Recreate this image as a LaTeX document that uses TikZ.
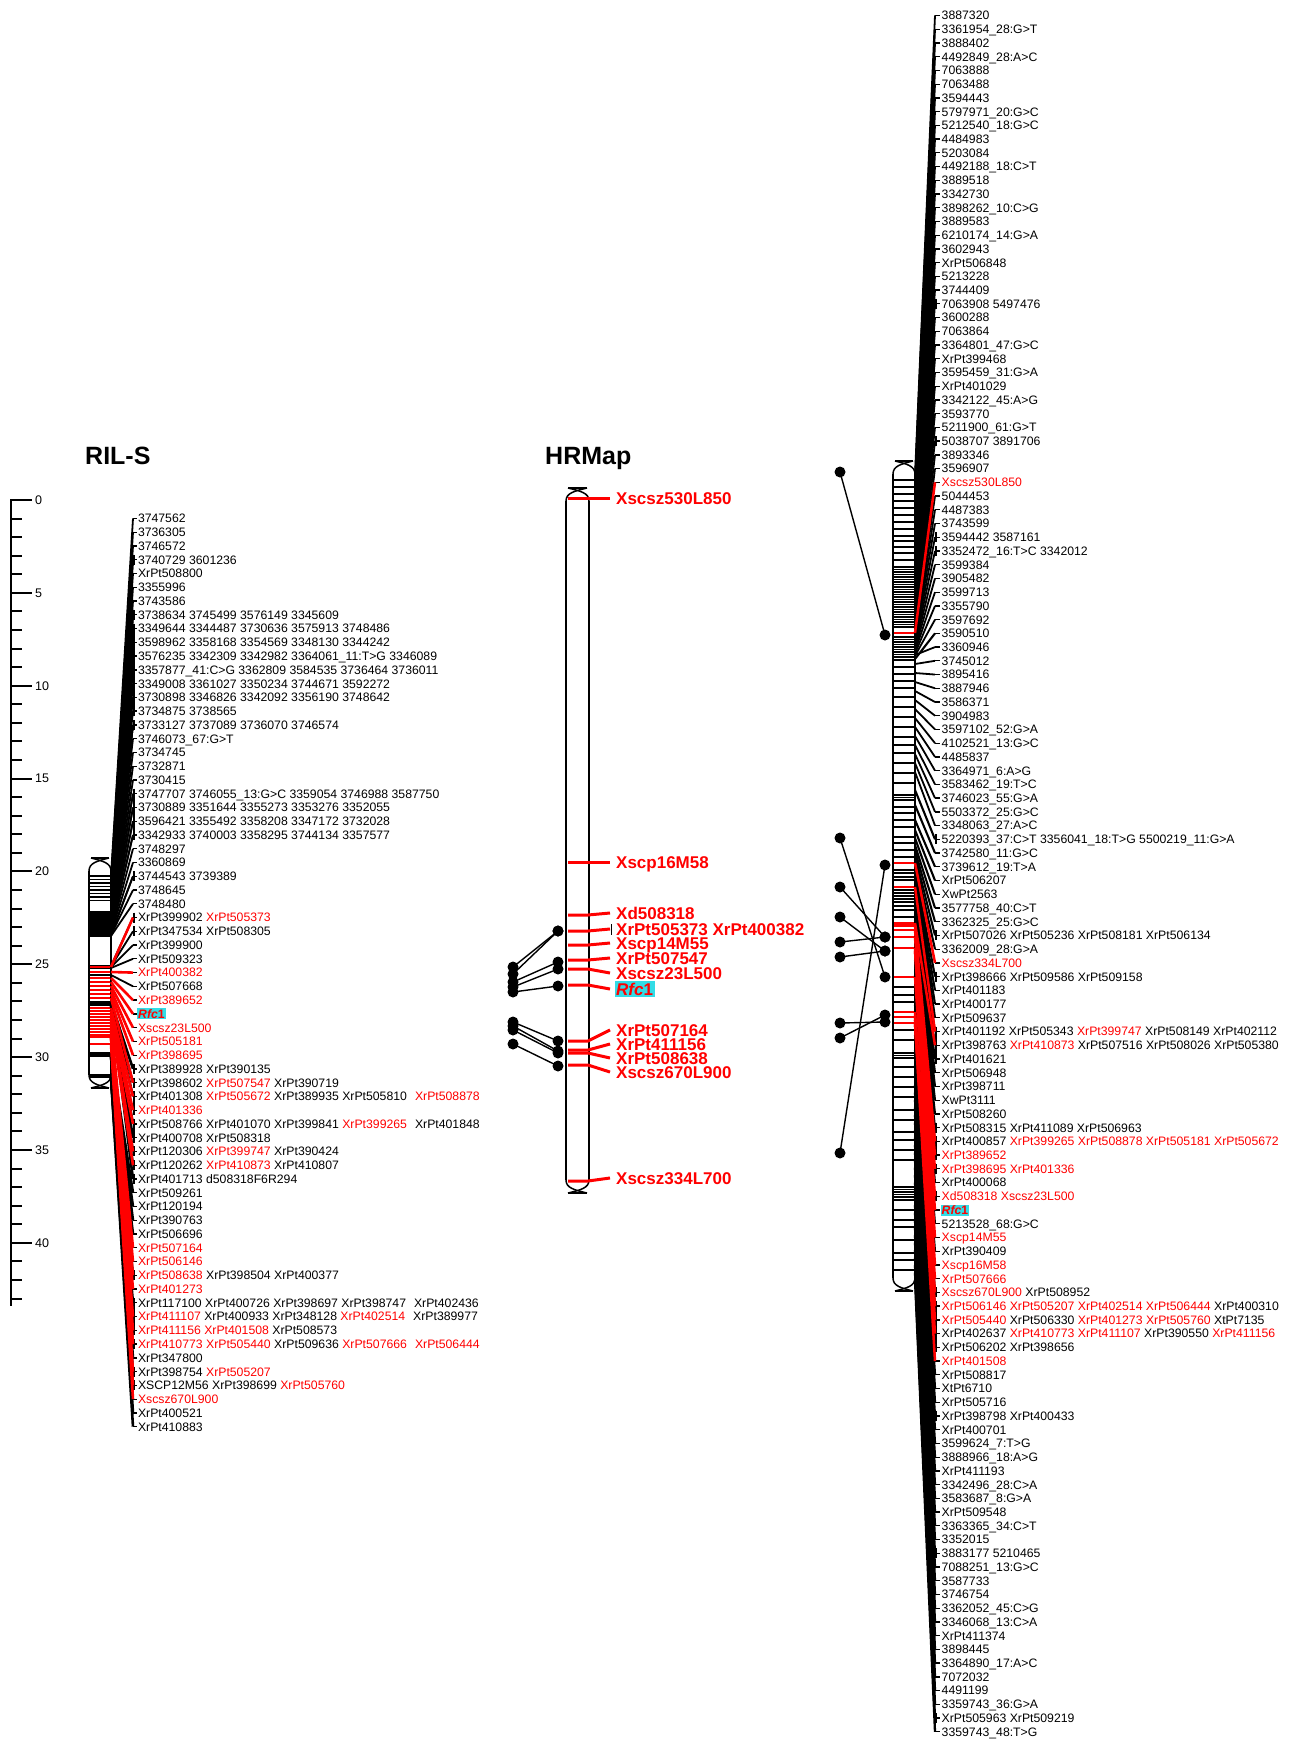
\documentclass[tikz,border=0pt]{standalone}
\usepackage{fontspec}
\setmainfont{Liberation Sans}
\definecolor{hl}{RGB}{50,220,230}
\newcommand\R[1]{\textcolor{red}{#1}}
\newcommand\G{\hspace{8pt}}
\newcommand\chrfill[4]{\fill[white,rounded corners=10pt] (#1,#3+3) rectangle (#2,#4-3);}
\newcommand\chrline[4]{%
 \pgfmathsetmacro\kxm{(#1+#2)/2}%
 \draw[chrom] (#1,#3+13) -- (#1,#4-13) (#2,#3+13) -- (#2,#4-13);%
 \draw[chrom] (#1+2,#3) -- (#2-2,#3) (#1+2,#4) -- (#2-2,#4);%
 \draw[chrom] (#1,#3+13) .. controls (#1,#3+5) and (\kxm-3,#3+3) .. (#2-2,#3);%
 \draw[chrom] (#2,#3+13) .. controls (#2,#3+5) and (\kxm+3,#3+3) .. (#1+2,#3);%
 \draw[chrom] (#1,#4-13) .. controls (#1,#4-5) and (\kxm-3,#4-3) .. (#2-2,#4);%
 \draw[chrom] (#2,#4-13) .. controls (#2,#4-5) and (\kxm+3,#4-3) .. (#1+2,#4);%
}
\def\ListLB{1/876,2/879.5,3/883,4/886.5,5/890,6/893.5,7/897,8/900.5,9/912,10/913.2,11/914.4,12/915.6,13/916.8,14/918,15/919.2,16/920.4,17/921.6,18/922.8,19/924,20/925.2,21/926.4,22/927.6,23/928.8,24/930,25/932,26/933,27/934,28/935,29/936,30/966,31/966.5,32/967,33/968,35/975}
\def\ListLBlow{41/1002,42/1002.5,43/1003,45/1003.5,46/1004,47/1004.5,48/1005,49/1005.5,50/1053,51/1053.5,52/1054,53/1054.5,56/1055,58/1055.5,59/1056,60/1056.5,61/1075,62/1075.5,63/1076,64/1076.5,66/1077,67/1077.5}
\def\ListLBx{4/888,8/902,8/904,9/912.6,9/913.8,10/914,11/915,12/916.2,13/917.4,14/918.6,16/921,16/922,21/927,22/928.2,23/929.4,24/931,27/935.5}
\def\ListLR{30/967,34/972,36/978,37/982,38/986,39/990,40/994,42/998,43/1008,44/1011,45/1014,47/1017,48/1020,54/1023,55/1026,56/1029,57/1032,59/1035,60/1035.5,61/1036,63/1036.5,64/1037,65/1044}
\def\ListRBx{46/659,61/790,62/805,63/820,64/830,65/838,66/845,67/850,68/855,69/860,71/870,72/873,73/877,74/880,75/900,76/903,77/906,78/910,79/915,80/920,81/930,82/940,83/950,86/960,89/975,91/990,94/1005,95/1020,96/1035,97/1050,98/1065}
\def\ListRR{35/633,70/863,75/887,76/923,83/925.5,84/930,85/948,87/937,88/951,90/951,92/977,93/1012,94/1015,95/1017,96/1020,97/1023,99/1023}
\begin{document}
\begin{tikzpicture}[x=1pt,y=-1pt,
  lab/.style={anchor=base west,inner sep=0pt,font=\fontsize{12.25}{14}\selectfont},
  hlab/.style={anchor=base west,inner sep=0pt,text=red,font=\fontsize{17}{20}\selectfont\bfseries},
  ttl/.style={anchor=base west,inner sep=0pt,font=\fontsize{25}{28}\selectfont\bfseries},
  conb/.style={line width=1.8pt,black},
  conr/.style={line width=2.6pt,red},
  rconr/.style={line width=2.5pt,red},
  hcon/.style={line width=3pt,red},
  chrom/.style={line width=1.5pt,black},
  bandb/.style={line width=1.3pt,black},
  bandr/.style={line width=2.8pt,red},
  rbandb/.style={line width=1.5pt,black},
  dotc/.style={circle,fill=black,inner sep=0pt,minimum size=11pt},
  dotl/.style={line width=1.4pt,black},
  tk/.style={line width=1.3pt},
  gbar/.style={line width=2pt}]
\useasboundingbox (0,0) rectangle (1290,1740);

% ruler
\draw[line width=2.3pt] (11,499) coordinate (r0) -- (11,1306) coordinate (r1);
\foreach \k in {0,...,43} {
  \pgfmathsetmacro\rulery{500+18.57*\k}
  \pgfmathtruncatemacro\m{mod(\k,5)}
  \ifnum\m=0
    \draw[line width=2pt] (11,\rulery) -- (32,\rulery);
    \node[anchor=west,inner sep=0pt,font=\fontsize{12.5}{14}\selectfont] (ru\k) at (35,\rulery) {\k};
  \else
    \draw[line width=2pt] (11,\rulery) -- (22,\rulery);
  \fi
}

% titles
\node[ttl] (t1) at (85,464) {RIL-S};
\node[ttl] (t2) at (545,464) {HRMap};

% chromosome bodies
\chrfill{89}{111}{858}{1088}
\chrfill{566}{589}{488}{1193}
\chrfill{893}{915}{461}{1291}

\begin{scope}
\clip[rounded corners=10pt] (89,861) rectangle (111,1085);
\foreach \i/\cpos in \ListLB {\draw[bandb] (89,\cpos) -- (111,\cpos);}
\foreach \i/\cpos in \ListLBlow {\draw[bandb] (89,\cpos) -- (111,\cpos);}
\foreach \i/\cpos in \ListLR {\draw[bandr] (89,\cpos) -- (111,\cpos);}
\end{scope}

\begin{scope}
\clip[rounded corners=10pt] (893,464) rectangle (915,1288);
\foreach \cpos in {480,487,494,501,508,515,522,529,536,541,547,553,560,567,569.5,572,574.5,577,579.5,582,584.5,587,589.5,592,594.5,597,599.5,602,604.5,607,609.5,612,614.5,617,619.5,622,624.5,627,637,639.5,642,644.5,647,649.5,652,654.5,657,660,667,674,681,688,697,707,717,727,737,745,753,763,773,783,795,797.5,800,807,813,820,827,837,843,850,857,870,873,877,880,890,893,896,899,902,906,910,917,987,995,1002,1030,1040,1053,1055.5,1058,1067,1077,1087,1097,1110,1120,1132,1140,1150,1160,1187,1189.5,1192,1194.5,1197,1200,1210,1220,1227,1240,1253,1260,1270}
  {\draw[rbandb] (893,\cpos) -- (915,\cpos);}
\foreach \cpos in {633,863,887,923,925.5,930,937,948,977,1012,1017,1023}
  {\draw[bandr] (893,\cpos) -- (915,\cpos);}
\end{scope}

\chrline{89}{111}{858}{1088}
\chrline{566}{589}{488}{1193}
\chrline{893}{915}{461}{1291}

% ---------- left labels (RIL-S)
\foreach \i/\t in {1/3747562,2/3736305,3/3746572,4/3740729 3601236,5/XrPt508800,6/3355996,7/3743586,
8/3738634 3745499 3576149 3345609,
9/3349644 3344487 3730636 3575913 3748486,
10/3598962 3358168 3354569 3348130 3344242,
11/3576235 3342309 3342982 3364061\_11:T>G 3346089,
12/3357877\_41:C>G 3362809 3584535 3736464 3736011,
13/3349008 3361027 3350234 3744671 3592272,
14/3730898 3346826 3342092 3356190 3748642,
15/3734875 3738565,
16/3733127 3737089 3736070 3746574,
17/3746073\_67:G>T,18/3734745,19/3732871,20/3730415,
21/3747707 3746055\_13:G>C 3359054 3746988 3587750,
22/3730889 3351644 3355273 3353276 3352055,
23/3596421 3355492 3358208 3347172 3732028,
24/3342933 3740003 3358295 3744134 3357577,
25/3748297,26/3360869,27/3744543 3739389,28/3748645,29/3748480,
30/XrPt399902 \R{XrPt505373},
31/XrPt347534 XrPt508305,
32/XrPt399900,33/XrPt509323,34/\R{XrPt400382},35/XrPt507668,36/\R{XrPt389652},
38/\R{Xscsz23L500},39/\R{XrPt505181},40/\R{XrPt398695},
41/XrPt389928 XrPt390135,
42/XrPt398602 \R{XrPt507547} XrPt390719,
43/XrPt401308 \R{XrPt505672} XrPt389935 XrPt505810\G\R{XrPt508878},
44/\R{XrPt401336},
45/XrPt508766 XrPt401070 XrPt399841 \R{XrPt399265}\G XrPt401848,
46/XrPt400708 XrPt508318,
47/XrPt120306 \R{XrPt399747} XrPt390424,
48/XrPt120262 \R{XrPt410873} XrPt410807,
49/XrPt401713 d508318F6R294,
50/XrPt509261,51/XrPt120194,52/XrPt390763,53/XrPt506696,
54/\R{XrPt507164},55/\R{XrPt506146},
56/\R{XrPt508638} XrPt398504 XrPt400377,
57/\R{XrPt401273},
58/XrPt117100 XrPt400726 XrPt398697 XrPt398747\G XrPt402436,
59/\R{XrPt411107} XrPt400933 XrPt348128 \R{XrPt402514}\G XrPt389977,
60/\R{XrPt411156 XrPt401508} XrPt508573,
61/\R{XrPt410773 XrPt505440} XrPt509636 \R{XrPt507666}\G\R{XrPt506444},
62/XrPt347800,
63/XrPt398754 \R{XrPt505207},
64/XSCP12M56 XrPt398699 \R{XrPt505760},
65/\R{Xscsz670L900},66/XrPt400521,67/XrPt410883}
{
  \pgfmathsetmacro\rowy{518.5+(\i-1)*13.76}
  \coordinate (lt\i) at (133,\rowy);
  \draw[tk] (lt\i) -- (137,\rowy);
  \node[lab] (ll\i) at (137.8,\rowy+4.4) {\t};
}
\pgfmathsetmacro\rowy{518.5+36*13.76}
\coordinate (lt37) at (133,\rowy);
\draw[tk] (lt37) -- (137,\rowy);
\node[lab,fill=hl,inner sep=1pt,text=red,font=\fontsize{12.25}{14}\selectfont\bfseries] (ll37) at (137,\rowy+4.4) {\textit{Rfc}1};

% left brackets
\foreach \a/\b in {4/4,8/8,9/15,16/16,21/24,27/27,30/30,31/31,41/41,42/42,43/44,45/46,47/47,48/48,49/49,56/56,58/60,61/61,63/63,64/64}{
  \pgfmathsetmacro\ya{518.5+(\a-1)*13.76-5}
  \pgfmathsetmacro\yb{518.5+(\b-1)*13.76+5}
  \draw[gbar] (134.3,\ya) -- (134.3,\yb);
}

% left connectors
\foreach \i/\cpos in \ListLB {\coordinate (lcb\i) at (111,\cpos); \draw[conb] (lcb\i) -- (lt\i);}
\foreach \i/\cpos in \ListLBx {\coordinate (lcx\i) at (111,\cpos); \draw[conb] (lcx\i) -- (lt\i);}
\foreach \i/\cpos in \ListLBlow {\coordinate (lcl\i) at (111,\cpos); \draw[line width=2.6pt] (lcl\i) -- (lt\i);}
\foreach \i/\cpos in \ListLR {\coordinate (lcr\i) at (111,\cpos); \draw[conr] (lcr\i) -- (lt\i);}

% ---------- HRMap
\foreach \n/\cpos/\lpos/\t in {1/498/498/Xscsz530L850,2/862/862/Xscp16M58,3/915/913/Xd508318,4/931/929/XrPt505373 XrPt400382,5/945/943/Xscp14M55,6/960/958/XrPt507547,7/969/973/Xscsz23L500,9/1041/1030/XrPt507164,10/1050/1044/XrPt411156,11/1053/1058/XrPt508638,12/1065/1072/Xscsz670L900,13/1181/1178/Xscsz334L700}
{
  \coordinate (hc\n) at (568,\cpos);
  \coordinate (ht\n) at (610,\lpos);
  \draw[hcon] (hc\n) -- ++(20,0) -- (ht\n);
  \node[hlab] (hl\n) at (616,\lpos+6.1) {\t};
}
\coordinate (hc8) at (568,985);
\coordinate (ht8) at (610,989);
\draw[hcon] (hc8) -- ++(20,0) -- (ht8);
\node[hlab,fill=hl,inner sep=1.5pt] (hl8) at (614.5,989+6.1) {\textit{Rfc}1};
\draw[line width=1.5pt] (611.7,924) coordinate (hb1) -- (611.7,935) coordinate (hb2);

% middle dots
\foreach \n/\a/\b in {1/967/931,2/974/931,3/982/962,4/987/969,5/992/986,6/1022/1041,7/1026/1051,8/1030/1053,9/1044/1066}
{
  \node[dotc] (ma\n) at (513,\a) {};
  \node[dotc] (mb\n) at (558,\b) {};
  \draw[dotl] (ma\n.center) -- (mb\n.center);
}

% ---------- right labels
\foreach \i/\t in {1/3887320,2/3361954\_28:G>T,3/3888402,4/4492849\_28:A>C,5/7063888,6/7063488,7/3594443,
8/5797971\_20:G>C,9/5212540\_18:G>C,10/4484983,11/5203084,12/4492188\_18:C>T,13/3889518,14/3342730,
15/3898262\_10:C>G,16/3889583,17/6210174\_14:G>A,18/3602943,19/XrPt506848,20/5213228,21/3744409,
22/7063908 5497476,23/3600288,24/7063864,25/3364801\_47:G>C,26/XrPt399468,27/3595459\_31:G>A,
28/XrPt401029,29/3342122\_45:A>G,30/3593770,31/5211900\_61:G>T,32/5038707 3891706,33/3893346,
34/3596907,35/\R{Xscsz530L850},36/5044453,37/4487383,38/3743599,39/3594442 3587161,
40/3352472\_16:T>C 3342012,41/3599384,42/3905482,43/3599713,44/3355790,45/3597692,46/3590510,
47/3360946,48/3745012,49/3895416,50/3887946,51/3586371,52/3904983,53/3597102\_52:G>A,
54/4102521\_13:G>C,55/4485837,56/3364971\_6:A>G,57/3583462\_19:T>C,58/3746023\_55:G>A,
59/5503372\_25:G>C,60/3348063\_27:A>C,61/5220393\_37:C>T 3356041\_18:T>G 5500219\_11:G>A,
62/3742580\_11:G>C,63/3739612\_19:T>A,64/XrPt506207,65/XwPt2563,66/3577758\_40:C>T,
67/3362325\_25:G>C,68/XrPt507026 XrPt505236 XrPt508181 XrPt506134,69/3362009\_28:G>A,
70/\R{Xscsz334L700},71/XrPt398666 XrPt509586 XrPt509158,72/XrPt401183,73/XrPt400177,74/XrPt509637,
75/XrPt401192 XrPt505343 \R{XrPt399747} XrPt508149 XrPt402112,
76/XrPt398763 \R{XrPt410873} XrPt507516 XrPt508026 XrPt505380,
77/XrPt401621,78/XrPt506948,79/XrPt398711,80/XwPt3111,81/XrPt508260,
82/XrPt508315 XrPt411089 XrPt506963,
83/XrPt400857 \R{XrPt399265 XrPt508878 XrPt505181 XrPt505672},
84/\R{XrPt389652},85/\R{XrPt398695 XrPt401336},86/XrPt400068,87/\R{Xd508318 Xscsz23L500},
89/5213528\_68:G>C,90/\R{Xscp14M55},91/XrPt390409,92/\R{Xscp16M58},93/\R{XrPt507666},
94/\R{Xscsz670L900} XrPt508952,
95/\R{XrPt506146 XrPt505207 XrPt402514 XrPt506444} XrPt400310,
96/\R{XrPt505440} XrPt506330 \R{XrPt401273 XrPt505760} XtPt7135,
97/XrPt402637 \R{XrPt410773 XrPt411107} XrPt390550 \R{XrPt411156},
98/XrPt506202 XrPt398656,99/\R{XrPt401508},100/XrPt508817,101/XtPt6710,102/XrPt505716,
103/XrPt398798 XrPt400433,104/XrPt400701,105/3599624\_7:T>G,106/3888966\_18:A>G,107/XrPt411193,
108/3342496\_28:C>A,109/3583687\_8:G>A,110/XrPt509548,111/3363365\_34:C>T,112/3352015,
113/3883177 5210465,114/7088251\_13:G>C,115/3587733,116/3746754,117/3362052\_45:C>G,
118/3346068\_13:C>A,119/XrPt411374,120/3898445,121/3364890\_17:A>C,122/7072032,123/4491199,
124/3359743\_36:G>A,125/XrPt505963 XrPt509219,126/3359743\_48:T>G}
{
  \pgfmathsetmacro\rowy{15.5+(\i-1)*13.73}
  \coordinate (rc\i) at (935,\rowy);
  \draw[tk] (rc\i) -- (940,\rowy);
  \node[lab] (rt\i) at (941.5,\rowy+4.4) {\t};
}
\pgfmathsetmacro\rowy{15.5+87*13.73}
\coordinate (rc88) at (935,\rowy);
\draw[tk] (rc88) -- (940,\rowy);
\node[lab,fill=hl,inner sep=1pt,text=red,font=\fontsize{12.25}{14}\selectfont\bfseries] (rt88) at (940.5,\rowy+4.4) {\textit{Rfc}1};

% right brackets
\foreach \a/\b in {22/22,32/32,39/39,40/40,61/61,68/68,71/71,75/77,82/82,83/84,85/85,87/87,94/94,95/98,103/103,113/113,125/125}{
  \pgfmathsetmacro\ya{15.5+(\a-1)*13.73-5}
  \pgfmathsetmacro\yb{15.5+(\b-1)*13.73+5}
  \draw[gbar] (936.3,\ya) -- (936.3,\yb);
}

% right connectors
\foreach \i in {1,...,34} {\pgfmathsetmacro\cpos{475+4.7*(\i-1)} \coordinate (rcb\i) at (915,\cpos); \draw[conb] (rcb\i) -- (rc\i);}
\foreach \i in {36,...,45} {\pgfmathsetmacro\cpos{636+2.2*(\i-36)} \coordinate (rcb\i) at (915,\cpos); \draw[conb] (rcb\i) -- (rc\i);}
\foreach \i in {47,...,60} {\pgfmathsetmacro\cpos{655+9*(\i-47)} \coordinate (rcb\i) at (915,\cpos); \draw[conb] (rcb\i) -- (rc\i);}
\foreach \i in {100,...,126} {\pgfmathsetmacro\cpos{1085+7.5*(\i-100)} \coordinate (rcb\i) at (915,\cpos); \draw[line width=2.3pt] (rcb\i) -- (rc\i);}
\foreach \i/\cpos in \ListRBx {\coordinate (rcb\i) at (915,\cpos); \draw[line width=2.1pt] (rcb\i) -- (rc\i);}
\foreach \i/\cpos in \ListRR {\coordinate (rcr\i) at (915,\cpos); \draw[rconr] (rcr\i) -- (rc\i);}

% right dots
\foreach \n/\a/\b in {1/472/635,2/838/977,3/887/937,4/917/951,5/942/937,6/957/951,7/1023/1022,8/1038/1015,9/1153/865}
{
  \node[dotc] (na\n) at (840,\a) {};
  \node[dotc] (nb\n) at (885,\b) {};
  \draw[dotl] (na\n.center) -- (nb\n.center);
}
\end{tikzpicture}
\end{document}
